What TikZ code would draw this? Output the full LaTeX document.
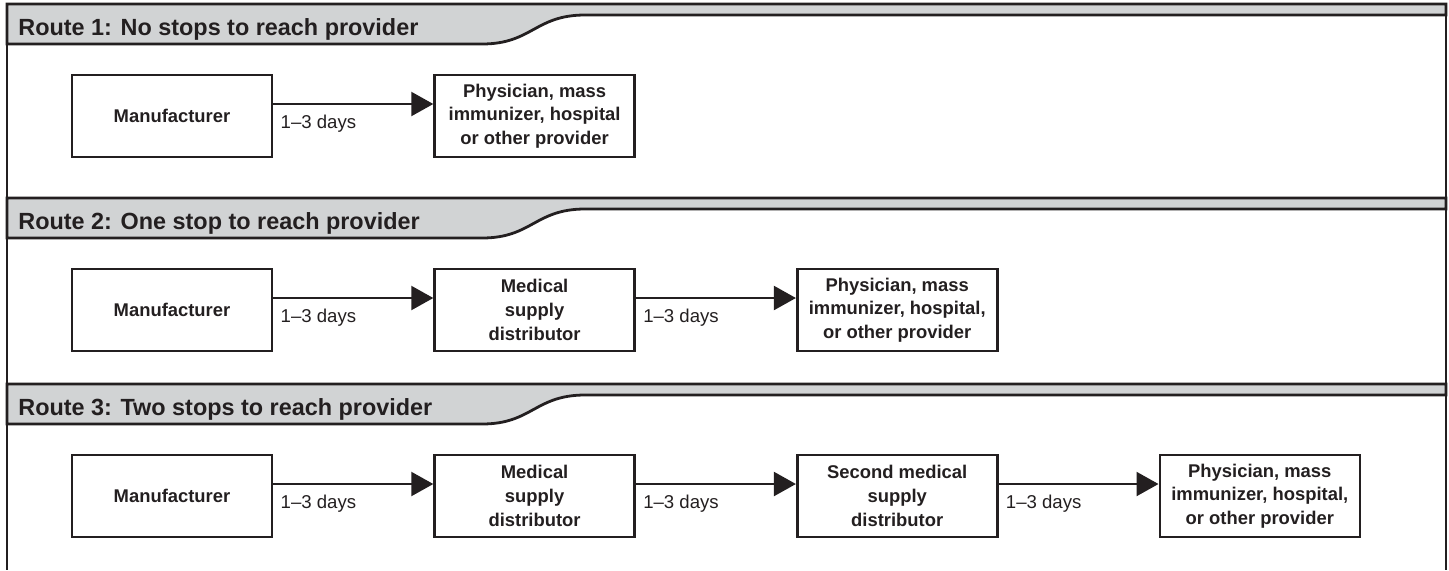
\documentclass[tikz,border=0pt]{standalone}
\usepackage{fontspec}
\setmainfont{Liberation Sans}
\usetikzlibrary{arrows.meta, positioning}
\definecolor{inkline}{HTML}{231F20}
\definecolor{tabgrey}{HTML}{D1D3D4}

\begin{document}
\begin{tikzpicture}[x = 0.5pt, y = -0.5pt, node distance = 80pt]
      \tikzstyle{box} = [draw = inkline, line width = 1.3pt, minimum width = 100pt, minimum height = 41pt, align = center, inner sep = 0pt, text = inkline, font = \fontsize{9.2}{11.8}\selectfont\bfseries]
      \tikzstyle{flow} = [-{Triangle[length = 11pt, width = 12pt]}, line width = 1.1pt, draw = inkline]
      \tikzstyle{days} = [anchor = base west, inner sep = 0pt, text = inkline, font = \fontsize{9.3}{11}\selectfont]
      \tikzstyle{tab} = [fill = tabgrey, draw = inkline, line width = 1.4pt]
      \useasboundingbox (0,0) rectangle (1449,570);
      % frame
      \draw[inkline, line width = 0.8pt] (7,4) -- (7,570) (1446,4) -- (1446,570);
      % route headers
      \foreach \t/\title in {4/{Route 1: No stops to reach provider}, 198/{Route 2: One stop to reach provider}, 384/{Route 3: Two stops to reach provider}} {
        \draw[tab] (7,\t) -- (1446,\t) -- (1446,\t+11) -- (585,\t+11) .. controls (535,\t+11) and (532,\t+40) .. (482,\t+40) -- (7,\t+40) -- cycle;
        \node[anchor = base west, inner sep = 0pt, text = inkline, font = \fontsize{11.7}{14}\selectfont\bfseries] (h\t) at (18,\t+31) {\title};
      }
      % route 1
      \node[box] (m1) at (172,116) {Manufacturer};
      \node[box, right=of m1] (p1) {Physician, mass\\immunizer, hospital\\or other provider};
      \draw[flow] ([yshift=6pt]m1.east) -- ([yshift=6pt]p1.west);
      \node[days] (l1) at ([xshift=3.5pt, yshift=-6pt]m1.east) {1--3 days};
      % route 2
      \node[box] (m2) at (172,310) {Manufacturer};
      \node[box, right=of m2] (d2) {Medical\\supply\\distributor};
      \node[box, right=of d2] (p2) {Physician, mass\\immunizer, hospital,\\or other provider};
      \draw[flow] ([yshift=6pt]m2.east) -- ([yshift=6pt]d2.west);
      \draw[flow] ([yshift=6pt]d2.east) -- ([yshift=6pt]p2.west);
      \node[days] (l2a) at ([xshift=3.5pt, yshift=-6pt]m2.east) {1--3 days};
      \node[days] (l2b) at ([xshift=3.5pt, yshift=-6pt]d2.east) {1--3 days};
      % route 3
      \node[box] (m3) at (172,496) {Manufacturer};
      \node[box, right=of m3] (d3) {Medical\\supply\\distributor};
      \node[box, right=of d3] (s3) {Second medical\\supply\\distributor};
      \node[box, right=of s3] (p3) {Physician, mass\\immunizer, hospital,\\or other provider};
      \draw[flow] ([yshift=6pt]m3.east) -- ([yshift=6pt]d3.west);
      \draw[flow] ([yshift=6pt]d3.east) -- ([yshift=6pt]s3.west);
      \draw[flow] ([yshift=6pt]s3.east) -- ([yshift=6pt]p3.west);
      \node[days] (l3a) at ([xshift=3.5pt, yshift=-6pt]m3.east) {1--3 days};
      \node[days] (l3b) at ([xshift=3.5pt, yshift=-6pt]d3.east) {1--3 days};
      \node[days] (l3c) at ([xshift=3.5pt, yshift=-6pt]s3.east) {1--3 days};
    \end{tikzpicture}
\end{document}
